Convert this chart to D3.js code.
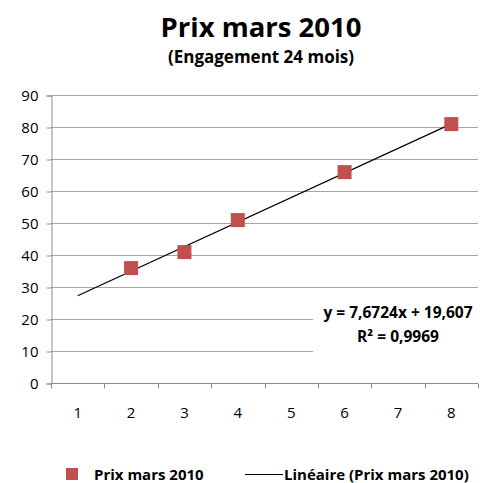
<!DOCTYPE html>
<html>
<head>
<meta charset="utf-8">
<script src="https://cdn.jsdelivr.net/npm/d3@7"></script>
<style>
  body { margin: 0; background: #fff; }
  text { font-family: "Open Sans", sans-serif; fill: #000; }
</style>
</head>
<body>
<script>
// categories on the x axis
var categories = [1, 2, 3, 4, 5, 6, 7, 8];
// price points (x, y)
var pointX = [2, 3, 4, 6, 8];
var pointY = [35.9, 40.9, 50.9, 65.9, 80.9];
// linear trend: y = slope * x + intercept
var slope = 7.6724, intercept = 19.607;
var trendRange = [1, 8];
var yTicks = [0, 10, 20, 30, 40, 50, 60, 70, 80, 90];

var width = 480, height = 483;
var margin = {top: 95, right: 2, bottom: 100, left: 51};

var svg = d3.select("body").append("svg")
    .attr("width", width)
    .attr("height", height);

var x = d3.scaleLinear()
    .domain([0.5, 8.5])
    .range([margin.left, width - margin.right]);

var y = d3.scaleLinear()
    .domain([0, 90])
    .range([height - margin.bottom, margin.top]);

// title
svg.append("text")
    .attr("x", 261).attr("y", 37)
    .attr("text-anchor", "middle")
    .style("font-size", "27.5px").style("font-weight", "bold")
    .text("Prix mars 2010");
svg.append("text")
    .attr("x", 261).attr("y", 63)
    .attr("text-anchor", "middle")
    .style("font-size", "17px").style("font-weight", "bold")
    .text("(Engagement 24 mois)");

// gridlines
svg.append("g")
  .selectAll("line")
  .data(yTicks.slice(1))
  .enter().append("line")
    .attr("x1", margin.left).attr("x2", width - margin.right)
    .attr("y1", function(d) { return Math.round(y(d)) + 0.5; })
    .attr("y2", function(d) { return Math.round(y(d)) + 0.5; })
    .attr("stroke", "#a6a6a6");

// y axis
var yAxis = svg.append("g")
    .attr("transform", "translate(" + (margin.left + 0.5) + ",0.5)")
    .call(d3.axisLeft(y).tickValues(yTicks).tickSize(5).tickPadding(8));
yAxis.selectAll("path, line").attr("stroke", "#8c8c8c");
yAxis.selectAll("text").style("font-size", "15px").style("font-family", "'Open Sans', sans-serif").attr("fill", "#000");

// x axis: ticks between categories, labels at centres
var xAxis = svg.append("g")
    .attr("transform", "translate(0," + (Math.round(y(0)) + 0.5) + ")");
xAxis.append("line")
    .attr("x1", margin.left).attr("x2", width - margin.right)
    .attr("stroke", "#8c8c8c");
xAxis.selectAll(".tick")
  .data(categories.map(function(c) { return c + 0.5; }).concat([0.5]))
  .enter().append("line")
    .attr("x1", function(d) { return Math.round(x(d)) + 0.5; })
    .attr("x2", function(d) { return Math.round(x(d)) + 0.5; })
    .attr("y1", 0).attr("y2", 5)
    .attr("stroke", "#8c8c8c");
xAxis.selectAll(".lab")
  .data(categories)
  .enter().append("text")
    .attr("x", function(d) { return x(d); })
    .attr("y", 34)
    .attr("text-anchor", "middle")
    .style("font-size", "15px")
    .text(function(d) { return d; });

// trend line
var line = d3.line()
    .x(function(d) { return x(d); })
    .y(function(d) { return y(slope * d + intercept); });
svg.append("path")
    .datum(trendRange)
    .attr("d", line)
    .attr("fill", "none")
    .attr("stroke", "#000")
    .attr("stroke-width", 1.2);

// markers
var s = 14;
svg.append("g")
  .selectAll("rect")
  .data(pointX)
  .enter().append("rect")
    .attr("x", function(d) { return x(d) - s / 2; })
    .attr("y", function(d, i) { return y(pointY[i]) - s / 2; })
    .attr("width", s).attr("height", s)
    .attr("fill", "#c0504d");

// equation label (white box hides gridlines)
var eq = svg.append("g");
eq.append("rect")
    .attr("x", 313).attr("y", y(22)).attr("width", 167).attr("height", y(8) - y(22))
    .attr("fill", "#fff");
eq.append("text")
    .attr("x", 398).attr("y", 318)
    .attr("text-anchor", "middle")
    .style("font-size", "15.5px").style("font-weight", "bold")
    .text("y = 7,6724x + 19,607");
eq.append("text")
    .attr("x", 398).attr("y", 342)
    .attr("text-anchor", "middle")
    .style("font-size", "15.5px").style("font-weight", "bold")
    .text("R² = 0,9969");

// legend
var leg = svg.append("g");
leg.append("rect")
    .attr("x", 66).attr("y", 468).attr("width", 12).attr("height", 12)
    .attr("fill", "#c0504d");
leg.append("text")
    .attr("x", 94).attr("y", 480)
    .style("font-size", "15px").style("font-weight", "bold")
    .text("Prix mars 2010");
leg.append("line")
    .attr("x1", 245).attr("x2", 283)
    .attr("y1", 474.5).attr("y2", 474.5)
    .attr("stroke", "#000");
leg.append("text")
    .attr("x", 284).attr("y", 480)
    .style("font-size", "15px").style("font-weight", "bold")
    .text("Linéaire (Prix mars 2010)");
</script>
</body>
</html>
